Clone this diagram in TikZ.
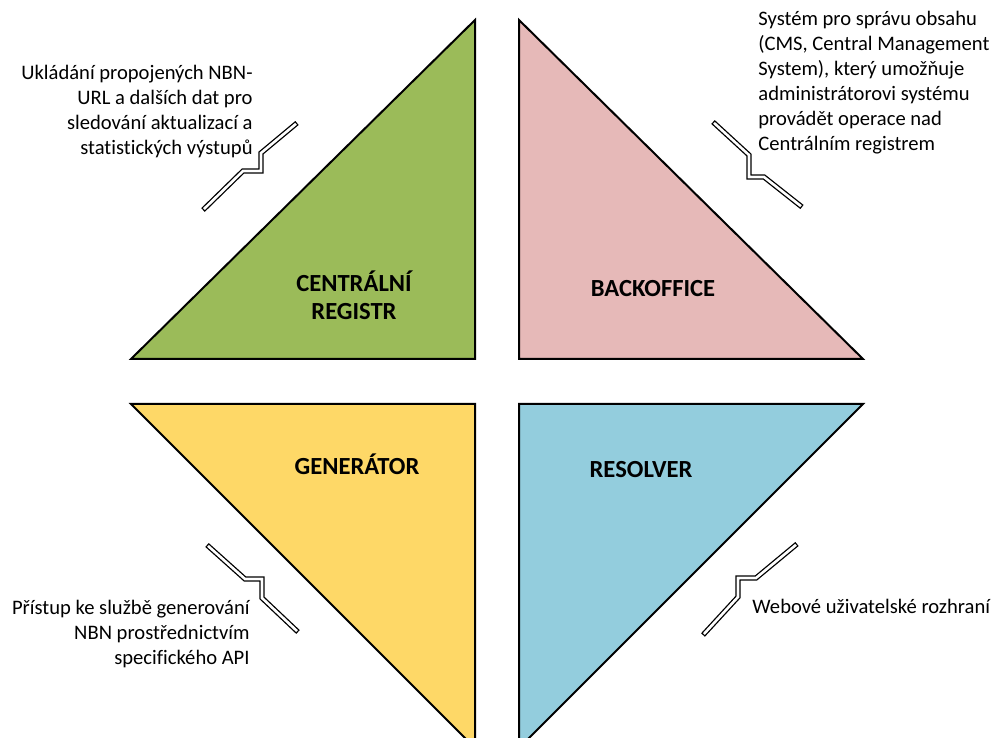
\documentclass[tikz,border=0pt]{standalone}
\usepackage{fontspec}
\setmainfont{Carlito}[Ligatures=NoCommon]
\usetikzlibrary{positioning,shapes}

\definecolor{regGreen}{HTML}{9BBB59}
\definecolor{backPink}{HTML}{E6B9B8}
\definecolor{genYellow}{HTML}{FED867}
\definecolor{resBlue}{HTML}{93CDDD}

% double zig line with closed ends
\newcommand{\breakline}[1]{%
  \draw[line width=2.6pt,line join=miter] #1;
  \draw[white,line width=1.3pt,line join=miter,shorten <=0.65pt,shorten >=0.65pt] #1;}

\begin{document}
\begin{tikzpicture}[x=0.5pt,y=-0.5pt,every node/.style={inner sep=0pt},part/.style={draw=black,line width=1pt,line join=miter},title/.style={font=\fontsize{12.3}{14}\selectfont\bfseries,align=center},note/.style={font=\fontsize{10.3}{12.5}\selectfont}]
\useasboundingbox (0,0) rectangle (998,738);
\clip (0,0) rectangle (998,738);
\draw[part,fill=regGreen] (131,359) -- (475,359) -- (475,20) -- cycle;
\draw[part,fill=backPink] (519,20) -- (519,359) -- (863,359) -- cycle;
\draw[part,fill=genYellow] (131,404) -- (475,404) -- (475,748) -- cycle;
\draw[part,fill=resBlue] (519,404) -- (863,404) -- (519,748) -- cycle;
\node[title] (registr) at (354,295) {CENTRÁLNÍ\\REGISTR};
\node[title] (backoffice) at (653,289) {BACKOFFICE};
\node[title] (generator) at (357,464) {GENERÁTOR};
\node[title] (resolver) at (641,470) {RESOLVER};
\node[note,align=right,anchor=east] (regnote) at (253,112) {Ukládání propojených NBN-\\URL a dalších dat pro\\sledování aktualizací a\\statistických výstupů};
\node[note,align=left,anchor=west] (backnote) at (758,83) {Systém pro správu obsahu\\(CMS, Central Management\\System), který umožňuje\\administrátorovi systému\\provádět operace nad\\Centrálním registrem};
\node[note,align=right,anchor=east] (gennote) at (250,634) {Přístup ke službě generování\\NBN prostřednictvím\\specifického API};
\node[note,align=left,anchor=west] (resnote) at (752,606) {Webové uživatelské rozhraní};
\breakline{(203,210) -- (243,171) -- (261,171) -- (261,153) -- (297,123)}
\breakline{(713,122) -- (749,155) -- (749,177) -- (764,177) -- (802,207)}
\breakline{(207,545) -- (245,579) -- (262,579) -- (262,598) -- (298,632)}
\breakline{(703,635) -- (738,597) -- (738,578) -- (756,578) -- (797,544)}
\end{tikzpicture}
\end{document}
